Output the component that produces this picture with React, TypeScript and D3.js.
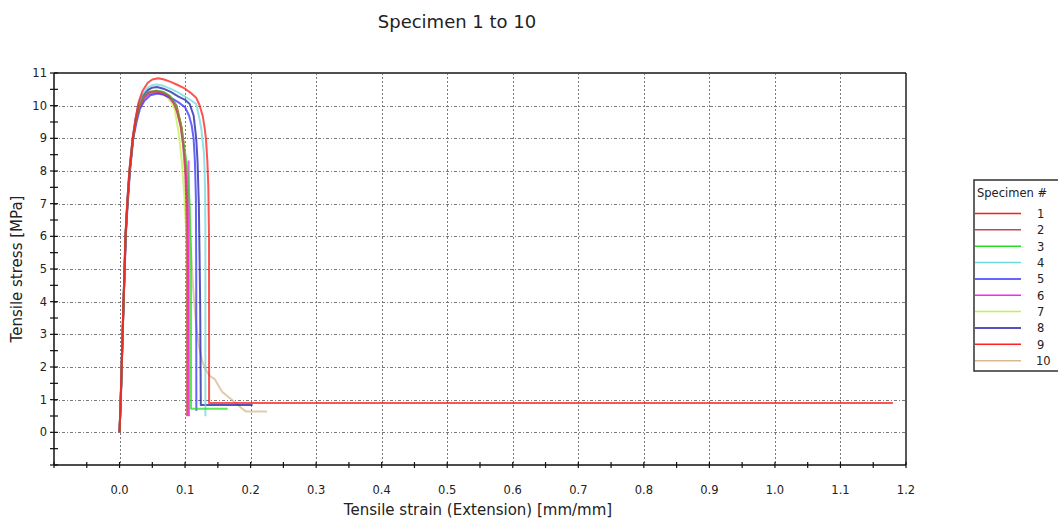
import React from "react";
import * as d3 from "d3";

const title = "Specimen 1 to 10";
const xLabel = "Tensile strain (Extension) [mm/mm]";
const yLabel = "Tensile stress [MPa]";
const legendTitle = "Specimen #";

const xTickLabels = ["0.0", "0.1", "0.2", "0.3", "0.4", "0.5", "0.6", "0.7", "0.8", "0.9", "1.0", "1.1", "1.2"];
const xTickValues = [0, 0.1, 0.2, 0.3, 0.4, 0.5, 0.6, 0.7, 0.8, 0.9, 1.0, 1.1, 1.2];
const yTickValues = [0, 1, 2, 3, 4, 5, 6, 7, 8, 9, 10, 11];

const specimenNames = ["1", "2", "3", "4", "5", "6", "7", "8", "9", "10"];
const specimenColors = ["#ff1a1a", "#c04a4a", "#22e022", "#6fd8d8", "#3030ff", "#ff20ff", "#c4f050", "#1a1aa8", "#ff2020", "#d8b890"];

const s1: [number, number][] = [
  [0, 0], [0.002, 1.2], [0.004, 2.6], [0.006, 4], [0.0076, 5], [0.009, 6], [0.0117, 7], [0.015, 8],
  [0.02, 9], [0.0245, 9.6], [0.029, 10.1], [0.035, 10.45], [0.043, 10.7], [0.05, 10.8], [0.059, 10.84],
  [0.068, 10.8], [0.078, 10.73], [0.088, 10.64], [0.1, 10.52], [0.108, 10.4], [0.117, 10.24],
  [0.122, 10.02], [0.127, 9.68], [0.13, 9.3], [0.132, 8.95], [0.134, 8.3], [0.1355, 7.5], [0.1365, 6],
  [0.1366, 3], [0.1366, 0.9], [0.15, 0.9], [0.4, 0.9], [0.8, 0.9], [1.18, 0.9],
];
const s2: [number, number][] = [
  [0, 0], [0.002, 1.1], [0.004, 2.5], [0.006, 3.9], [0.0078, 5], [0.0092, 6], [0.012, 7], [0.0155, 8],
  [0.0205, 9], [0.025, 9.55], [0.03, 9.95], [0.037, 10.25], [0.045, 10.4], [0.056, 10.44],
  [0.065, 10.4], [0.075, 10.3], [0.082, 10.1], [0.088, 9.8], [0.093, 9.4], [0.097, 8.8], [0.1, 8.0],
  [0.102, 7.0], [0.103, 5.5], [0.103, 0.49],
];
const s3: [number, number][] = [
  [0, 0], [0.002, 1.1], [0.004, 2.5], [0.006, 3.9], [0.0078, 5], [0.0092, 6], [0.012, 7], [0.0155, 8],
  [0.0205, 9], [0.025, 9.55], [0.03, 9.97], [0.037, 10.27], [0.045, 10.42], [0.057, 10.46],
  [0.067, 10.42], [0.077, 10.3], [0.085, 10.05], [0.093, 9.5], [0.099, 8.7], [0.104, 8.0], [0.107, 7.0],
  [0.109, 5.5], [0.109, 0.72], [0.165, 0.72],
];
const s4: [number, number][] = [
  [0, 0], [0.002, 1.2], [0.004, 2.6], [0.006, 4], [0.0076, 5], [0.009, 6], [0.0117, 7], [0.015, 8],
  [0.02, 9], [0.0245, 9.6], [0.029, 10.05], [0.035, 10.35], [0.043, 10.55], [0.05, 10.63], [0.058, 10.65],
  [0.068, 10.6], [0.08, 10.5], [0.09, 10.4], [0.1, 10.28], [0.11, 10.15], [0.117, 10.05], [0.122, 9.6],
  [0.125, 9.25], [0.129, 8.5], [0.1305, 7.5], [0.131, 6], [0.131, 3], [0.131, 0.49],
];
const s5: [number, number][] = [
  [0, 0], [0.002, 1.0], [0.004, 2.4], [0.006, 3.8], [0.008, 5], [0.0095, 6], [0.0125, 7], [0.016, 8],
  [0.021, 9], [0.026, 9.5], [0.031, 9.9], [0.038, 10.15], [0.047, 10.32], [0.058, 10.37],
  [0.068, 10.33], [0.08, 10.22], [0.09, 10.1], [0.1, 9.95], [0.106, 9.7], [0.11, 9.4], [0.113, 9.0],
  [0.115, 8.3], [0.1165, 7.2], [0.117, 5], [0.1172, 0.66],
];
const s6: [number, number][] = [
  [0, 0], [0.002, 1.1], [0.004, 2.5], [0.006, 3.9], [0.0078, 5], [0.0092, 6], [0.012, 7], [0.0155, 8],
  [0.0205, 9], [0.025, 9.55], [0.03, 9.93], [0.037, 10.22], [0.045, 10.36], [0.056, 10.4],
  [0.066, 10.36], [0.076, 10.25], [0.086, 10.0], [0.094, 9.3], [0.099, 8.5], [0.103, 7.5], [0.105, 6],
  [0.1055, 8.3], [0.1058, 5], [0.106, 0.49],
];
const s7: [number, number][] = [
  [0, 0], [0.002, 1.1], [0.004, 2.5], [0.006, 3.9], [0.0078, 5], [0.0092, 6], [0.012, 7], [0.0155, 8],
  [0.0205, 9], [0.025, 9.55], [0.03, 9.93], [0.037, 10.22], [0.045, 10.37], [0.055, 10.41],
  [0.065, 10.37], [0.073, 10.25], [0.079, 10.1], [0.084, 9.9], [0.09, 9.2], [0.095, 8.3], [0.099, 7.2],
  [0.102, 6], [0.104, 0.5],
];
const s8: [number, number][] = [
  [0, 0], [0.002, 1.2], [0.004, 2.6], [0.006, 4], [0.0076, 5], [0.009, 6], [0.0117, 7], [0.015, 8],
  [0.02, 9], [0.0245, 9.6], [0.029, 10.02], [0.035, 10.3], [0.043, 10.48], [0.05, 10.55], [0.057, 10.57],
  [0.067, 10.52], [0.078, 10.42], [0.09, 10.28], [0.1, 10.18], [0.107, 10.05], [0.113, 9.7], [0.117, 9.0],
  [0.119, 8.3], [0.121, 7], [0.123, 4], [0.124, 0.84], [0.203, 0.84],
];
const s9: [number, number][] = [
  [0, 0], [0.002, 1.1], [0.004, 2.5], [0.006, 3.9], [0.0078, 5], [0.0092, 6], [0.012, 7], [0.0155, 8],
  [0.0205, 9], [0.025, 9.55], [0.03, 9.97], [0.037, 10.27], [0.045, 10.42], [0.056, 10.46],
  [0.066, 10.42], [0.076, 10.3], [0.083, 10.12], [0.087, 10.0], [0.095, 9.3], [0.1, 8.4], [0.103, 7.2],
  [0.1045, 5.5], [0.1045, 0.5],
];
const s10: [number, number][] = [
  [0, 0], [0.002, 1.1], [0.004, 2.5], [0.006, 3.9], [0.0078, 5], [0.0092, 6], [0.012, 7], [0.0155, 8],
  [0.0205, 9], [0.025, 9.55], [0.03, 9.93], [0.037, 10.22], [0.045, 10.36], [0.056, 10.4],
  [0.066, 10.36], [0.076, 10.25], [0.087, 10.0], [0.095, 9.3], [0.1, 8.5], [0.104, 7.5], [0.108, 6],
  [0.112, 4.5], [0.116, 3.5], [0.1177, 3.17], [0.122, 2.55], [0.1265, 2.15], [0.132, 1.9], [0.1375, 1.73],
  [0.145, 1.63], [0.157, 1.23], [0.17, 1.02], [0.18, 0.85], [0.188, 0.71], [0.193, 0.64], [0.225, 0.64],
];

const specimens = [s1, s2, s3, s4, s5, s6, s7, s8, s9, s10];

const W = 1058;
const H = 522;
const plotLeft = 54;
const plotRight = 906;
const plotTop = 73;
const plotBottom = 465;

export default function App() {
  const x = d3.scaleLinear().domain([-0.1, 1.2]).range([plotLeft, plotRight]);
  const y = d3.scaleLinear().domain([-1, 11]).range([plotBottom, plotTop]);
  const line = d3
    .line<[number, number]>()
    .x((d) => x(d[0]))
    .y((d) => y(d[1]));

  const xMinor = d3.range(-0.1, 1.2001, 0.05);
  const yMinor = d3.range(-1, 11.001, 0.5);
  const font = "DejaVu Sans, Verdana, sans-serif";
  const textColor = "#222";

  const legendX = 974;
  const legendY = 180;
  const rowGap = 16.35;

  const order = [9, 8, 7, 6, 5, 4, 3, 2, 1, 0];

  return (
    <svg
      width={W}
      height={H}
      style={{ position: "absolute", left: 0, top: 0, display: "block", background: "#fff" }}
    >
      <rect x={0} y={0} width={W} height={H} fill="#fff" />
      <text x={457} y={28} textAnchor="middle" fontFamily={font} fontSize={18} fill={textColor}>
        {title}
      </text>

      {yTickValues
        .filter((v) => v < 11)
        .map((v) => (
          <line
            key={"gy" + v}
            x1={plotLeft}
            x2={plotRight}
            y1={Math.round(y(v)) + 0.5}
            y2={Math.round(y(v)) + 0.5}
            stroke="#7a7a7a"
            strokeWidth={1}
            strokeDasharray="3,2,1,2"
          />
        ))}
      {xTickValues
        .filter((v) => v < 1.2)
        .map((v) => (
          <line
            key={"gx" + v}
            x1={Math.round(x(v)) + 0.5}
            x2={Math.round(x(v)) + 0.5}
            y1={plotTop}
            y2={plotBottom}
            stroke="#7a7a7a"
            strokeWidth={1}
            strokeDasharray="2,2"
          />
        ))}

      <line x1={plotLeft} x2={plotRight} y1={plotTop} y2={plotTop} stroke="#505050" strokeWidth={2} />
      <line x1={plotRight} x2={plotRight} y1={plotTop} y2={plotBottom} stroke="#202020" strokeWidth={1.5} />

      <g>
        {order.map((i) => (
          <path
            key={"s" + i}
            d={line(specimens[i]) || ""}
            fill="none"
            stroke={specimenColors[i]}
            strokeWidth={2}
            strokeOpacity={0.75}
            strokeLinejoin="round"
          />
        ))}
      </g>

      <line x1={plotLeft} x2={plotLeft} y1={plotTop} y2={plotBottom} stroke="#111" strokeWidth={1.5} />
      <line x1={plotLeft} x2={plotRight} y1={plotBottom} y2={plotBottom} stroke="#111" strokeWidth={1.5} />
      {yMinor.map((v) => (
        <line
          key={"ty" + v}
          x1={plotLeft - 4}
          x2={plotLeft + 4}
          y1={y(v)}
          y2={y(v)}
          stroke="#111"
          strokeWidth={1.2}
        />
      ))}
      {xMinor.map((v) => (
        <line
          key={"tx" + v}
          x1={x(v)}
          x2={x(v)}
          y1={plotBottom - 3}
          y2={plotBottom + 3}
          stroke="#111"
          strokeWidth={1.2}
        />
      ))}
      {yTickValues.map((v) => (
        <text
          key={"ly" + v}
          x={plotLeft - 7}
          y={y(v) + 4}
          textAnchor="end"
          fontFamily={font}
          fontSize={11.5}
          fill={textColor}
        >
          {v}
        </text>
      ))}
      {xTickValues.map((v, i) => (
        <text
          key={"lx" + v}
          x={x(v)}
          y={494}
          textAnchor="middle"
          fontFamily={font}
          fontSize={11.5}
          fill={textColor}
        >
          {xTickLabels[i]}
        </text>
      ))}
      <text x={478} y={515} textAnchor="middle" fontFamily={font} fontSize={15} fill={textColor}>
        {xLabel}
      </text>
      <text
        transform={`translate(22,269) rotate(-90)`}
        textAnchor="middle"
        fontFamily={font}
        fontSize={15}
        fill={textColor}
      >
        {yLabel}
      </text>

      <rect
        x={legendX}
        y={legendY}
        width={W - legendX + 4}
        height={191}
        fill="#fff"
        stroke="#303030"
        strokeWidth={1.5}
      />
      <text x={977} y={197} fontFamily={font} fontSize={11.5} fill={textColor}>
        {legendTitle}
      </text>
      {specimenNames.map((name, i) => {
        const ry = 213.5 + i * rowGap;
        return (
          <g key={"lg" + i}>
            <line x1={975} x2={1021} y1={ry} y2={ry} stroke={specimenColors[i]} strokeWidth={1.5} />
            <text x={name.length > 1 ? 1036 : 1037} y={ry + 4.5} fontFamily={font} fontSize={11.5} fill={textColor}>
              {name}
            </text>
          </g>
        );
      })}
    </svg>
  );
}
